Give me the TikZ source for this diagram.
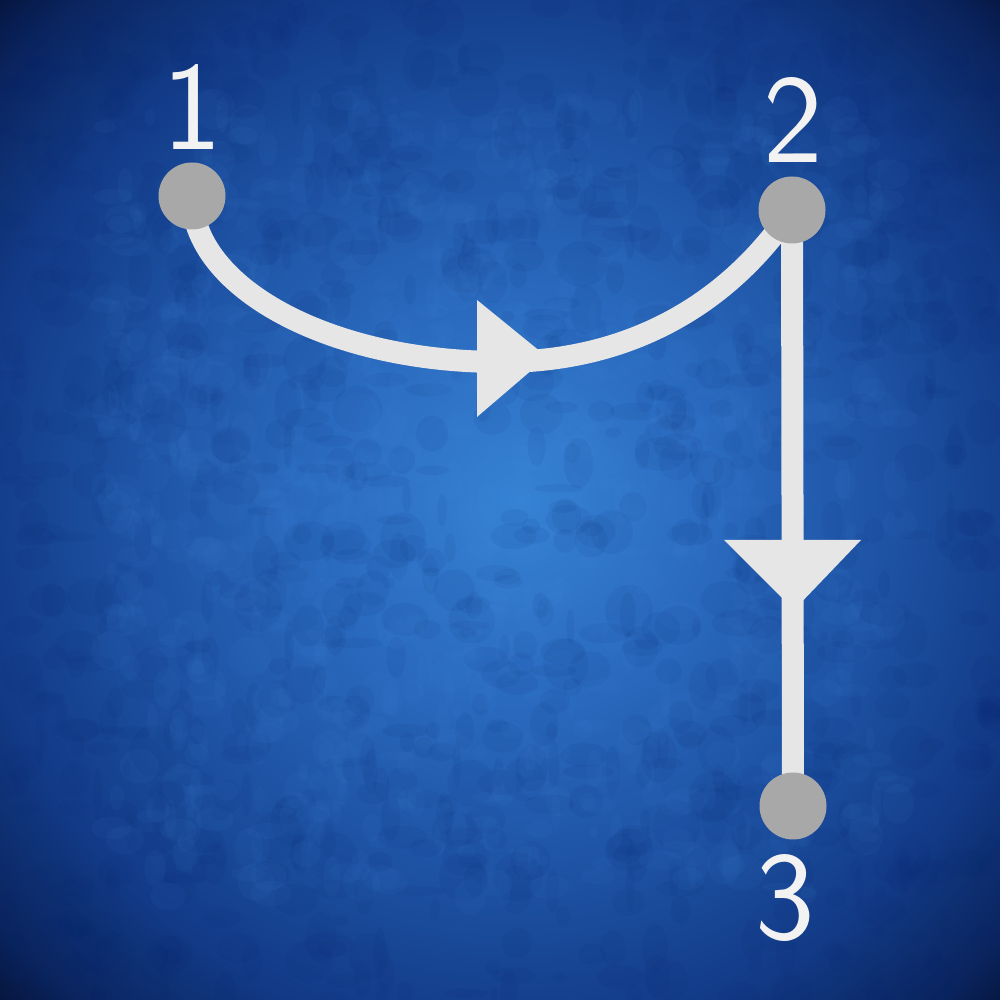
\documentclass[tikz,border=0pt]{standalone}
\definecolor{bgA}{HTML}{3682D4}
\definecolor{bgB}{HTML}{2A6ABE}
\definecolor{bgC}{HTML}{1C4FA0}
\definecolor{bgD}{HTML}{123A86}
\definecolor{bgE}{HTML}{0A245E}
\definecolor{bgF}{HTML}{040E2C}
\definecolor{spotdark}{HTML}{08246E}
\definecolor{spotlight}{HTML}{4A90E0}
\definecolor{linecol}{HTML}{E6E6E6}
\definecolor{dotcol}{HTML}{A8A8A8}
\definecolor{txtcol}{HTML}{F2F2F2}
\pgfdeclareradialshading{bgshade}{\pgfpoint{1bp}{0bp}}{color(0bp)=(bgA); color(10bp)=(bgB); color(20bp)=(bgC); color(27bp)=(bgD); color(33bp)=(bgE); color(37bp)=(bgF); color(50bp)=(bgF)}
\tikzset{
  dotnode/.style={circle, fill=dotcol, draw=none, minimum size=0.67cm, inner sep=0pt},
  lbl/.style={text=txtcol, font=\sffamily\fontsize{36}{40}\selectfont, anchor=base, inner sep=0pt},
  conn/.style={draw=linecol, line width=2.2mm},
  headfill/.style={fill=linecol, draw=none}
}
\begin{document}
\begin{tikzpicture}
\useasboundingbox (0,0) rectangle (10,10);
% background
\shade[shading=bgshade] (0,0) rectangle (10,10);
\begin{scope}
\clip (0,0) rectangle (10,10);
\pgfmathsetseed{11}
\foreach \i in {1,...,900}{
  \pgfmathsetmacro\xx{rnd*10}
  \pgfmathsetmacro\yy{rnd*10}
  \pgfmathsetmacro\ra{0.04+rnd*0.22}
  \pgfmathsetmacro\rb{0.04+rnd*0.22}
  \fill[spotdark, opacity=0.07] (\xx,\yy) ellipse[x radius=\ra, y radius=\rb];
}
\foreach \i in {1,...,700}{
  \pgfmathsetmacro\xx{1.0+rnd*8}
  \pgfmathsetmacro\yy{1.0+rnd*8}
  \pgfmathsetmacro\ra{0.04+rnd*0.18}
  \pgfmathsetmacro\rb{0.04+rnd*0.18}
  \fill[spotlight, opacity=0.06] (\xx,\yy) ellipse[x radius=\ra, y radius=\rb];
}
\end{scope}
% nodes
\coordinate (p1) at (1.92,8.04);
\coordinate (p2) at (7.92,7.90);
\coordinate (p3) at (7.93,1.94);
\coordinate (pm) at (5.00,6.38);
% connectors
\draw[conn] (p1) .. controls (1.92,7.12) and (3.30,6.38) .. (pm)
                 .. controls (6.40,6.38) and (7.35,7.05) .. (p2);
\draw[conn] (p2) -- (p3);
% arrowheads
\fill[headfill] (4.77,7.00) -- (5.47,6.43) -- (4.77,5.83) -- cycle;
\fill[headfill] (7.24,4.60) -- (8.61,4.60) -- (7.94,3.90) -- cycle;
% dots
\node[dotnode] (n1) at (p1) {};
\node[dotnode] (n2) at (p2) {};
\node[dotnode] (n3) at (p3) {};
% labels
\node[lbl] (l1) at (1.92,8.50) {1};
\node[lbl] (l2) at (7.93,8.37) {2};
\node[lbl] (l3) at (7.85,0.60) {3};
\end{tikzpicture}
\end{document}
